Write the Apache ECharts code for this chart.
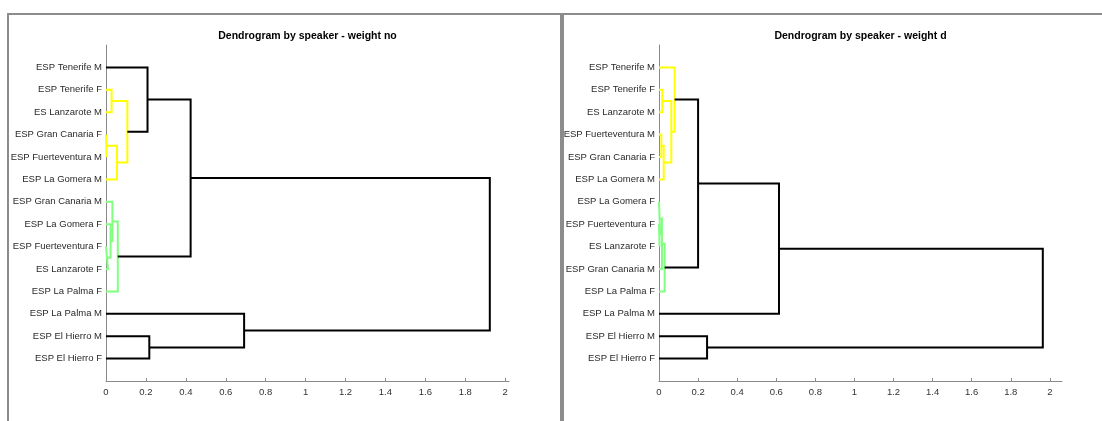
<!DOCTYPE html>
<html>
<head>
<meta charset="utf-8">
<script src="https://cdn.jsdelivr.net/npm/echarts@6/dist/echarts.min.js"></script>
<style>
html,body{margin:0;padding:0;background:#fff;}
#chart{width:1102px;height:421px;}
</style>
</head>
<body>
<div id="chart"></div>
<script>
// ---- data ----
const titleNo = 'Dendrogram by speaker - weight no';
const titleD = 'Dendrogram by speaker - weight d';

// leaves listed top to bottom
const leavesNo = ['ESP Tenerife M','ESP Tenerife F','ES Lanzarote M','ESP Gran Canaria F','ESP Fuerteventura M','ESP La Gomera M','ESP Gran Canaria M','ESP La Gomera F','ESP Fuerteventura F','ES Lanzarote F','ESP La Palma F','ESP La Palma M','ESP El Hierro M','ESP El Hierro F'];
// links: [childA, childB, height]; index >= 14 refers to earlier link (14 + k)
const linksNo = [
  [3, 4, 0.003],
  [5, 14, 0.055],
  [1, 2, 0.028],
  [16, 15, 0.107],
  [0, 17, 0.208],
  [8, 9, 0.010],
  [7, 19, 0.023],
  [6, 20, 0.032],
  [10, 21, 0.059],
  [18, 22, 0.424],
  [12, 13, 0.217],
  [11, 24, 0.692],
  [23, 25, 1.923]
];
const colorsNo = ['y','y','y','y','k','g','g','g','g','k','k','k','k'];

const leavesD = ['ESP Tenerife M','ESP Tenerife F','ES Lanzarote M','ESP Fuerteventura M','ESP Gran Canaria F','ESP La Gomera M','ESP La Gomera F','ESP Fuerteventura F','ES Lanzarote F','ESP Gran Canaria M','ESP La Palma F','ESP La Palma M','ESP El Hierro M','ESP El Hierro F'];
const linksD = [
  [1, 2, 0.017],
  [3, 4, 0.012],
  [5, 15, 0.024],
  [14, 16, 0.063],
  [0, 17, 0.080],
  [7, 8, 0.003],
  [6, 19, 0.006],
  [9, 20, 0.015],
  [10, 21, 0.029],
  [18, 22, 0.200],
  [11, 23, 0.614],
  [12, 13, 0.246],
  [24, 25, 1.964]
];
const colorsD = ['y','y','y','y','y','g','g','g','g','k','k','k','k'];

const xTickValues = [0,0.2,0.4,0.6,0.8,1,1.2,1.4,1.6,1.8,2];
const xTickLabels = ['0','0.2','0.4','0.6','0.8','1','1.2','1.4','1.6','1.8','2'];

// ---- build ----
const colorMap = {y:'#ffff00', g:'#80ff80', k:'#000000'};

function buildSeries(leaves, links, colors, idx) {
  const n = leaves.length;
  const pos = leaves.map((_, i) => n - i);
  const hgt = leaves.map(() => 0);
  const out = [];
  links.forEach((lk, k) => {
    const a = lk[0], b = lk[1], h = lk[2];
    const ya = pos[a], yb = pos[b];
    out.push({
      type: 'line',
      xAxisIndex: idx,
      yAxisIndex: idx,
      silent: true,
      symbol: 'none',
      animation: false,
      lineStyle: {color: colorMap[colors[k]], width: 2, join: 'miter', cap: 'butt'},
      data: [[hgt[a], ya], [h, ya], [h, yb], [hgt[b], yb]]
    });
    pos[n + k] = (ya + yb) / 2;
    hgt[n + k] = h;
  });
  return out;
}

function yAxisFor(leaves, idx) {
  const n = leaves.length;
  const vals = leaves.map((_, i) => n - i);
  return {
    type: 'value', gridIndex: idx, min: 0, max: n + 1, interval: 1,
    axisLine: {show: true, lineStyle: {color: '#8a8a8a', width: 1}},
    axisTick: {show: false},
    splitLine: {show: false},
    axisLabel: {
      customValues: vals,
      margin: 4,
      fontFamily: 'Liberation Sans, Arial, sans-serif',
      fontSize: 9.5,
      color: '#2a2a2a',
      formatter: v => { const i = n - v; return (i >= 0 && i < n) ? leaves[i] : ''; }
    }
  };
}

function xAxisFor(links, idx) {
  const rootH = links[links.length - 1][2];
  return {
    type: 'value', gridIndex: idx, min: 0, max: rootH * 1.05,
    axisLine: {show: true, onZero: false, lineStyle: {color: '#8a8a8a', width: 1}},
    axisTick: {show: true, inside: true, length: 3, customValues: xTickValues, lineStyle: {color: '#8a8a8a'}},
    splitLine: {show: false},
    axisLabel: {
      customValues: xTickValues,
      margin: 6,
      fontFamily: 'Liberation Sans, Arial, sans-serif',
      fontSize: 9.5,
      color: '#333',
      formatter: v => { const i = xTickValues.findIndex(t => Math.abs(t - v) < 1e-9); return i >= 0 ? xTickLabels[i] : ''; }
    }
  };
}

const chart = echarts.init(document.getElementById('chart'), null, {renderer: 'canvas'});
const option = {
  backgroundColor: '#ffffff',
  animation: false,
  title: [
    {text: titleNo, left: 307.5, top: 31, textAlign: 'center', padding: 0,
     textStyle: {fontFamily: 'Liberation Sans, Arial, sans-serif', fontSize: 10.5, fontWeight: 'bold', color: '#000'}},
    {text: titleD, left: 860.5, top: 31, textAlign: 'center', padding: 0,
     textStyle: {fontFamily: 'Liberation Sans, Arial, sans-serif', fontSize: 10.5, fontWeight: 'bold', color: '#000'}}
  ],
  grid: [
    {left: 106, top: 45, width: 403, height: 336, outerBoundsMode: 'none', containLabel: false},
    {left: 659, top: 45, width: 403, height: 336, outerBoundsMode: 'none', containLabel: false}
  ],
  xAxis: [xAxisFor(linksNo, 0), xAxisFor(linksD, 1)],
  yAxis: [yAxisFor(leavesNo, 0), yAxisFor(leavesD, 1)],
  series: buildSeries(leavesNo, linksNo, colorsNo, 0).concat(buildSeries(leavesD, linksD, colorsD, 1)),
  graphic: [
    {type: 'rect', silent: true, shape: {x: 8, y: 14, width: 553, height: 430},
     style: {fill: 'none', stroke: '#8c8c8c', lineWidth: 2}},
    {type: 'rect', silent: true, shape: {x: 563, y: 14, width: 560, height: 430},
     style: {fill: 'none', stroke: '#8c8c8c', lineWidth: 2}}
  ]
};
chart.setOption(option);
</script>
</body>
</html>
